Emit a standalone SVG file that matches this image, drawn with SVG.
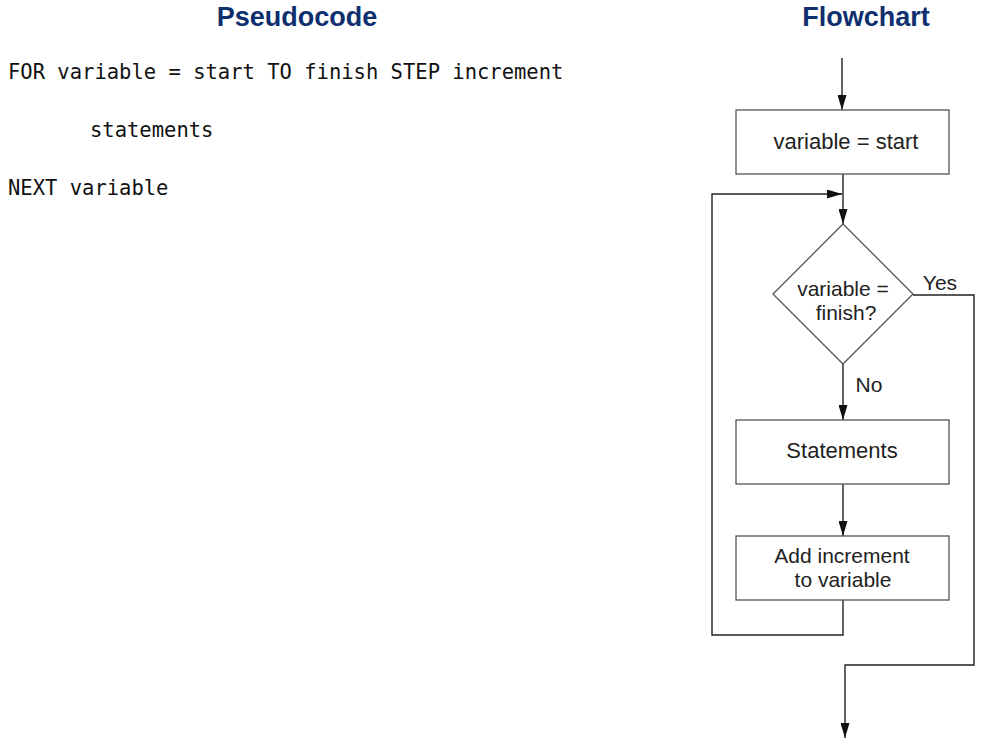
<svg xmlns="http://www.w3.org/2000/svg" width="986" height="745" viewBox="0 0 986 745">
<style>
.title{font-family:"Liberation Sans",Arial,sans-serif;font-weight:bold;font-size:27px;fill:#0f2f6e;text-anchor:middle}
.code{font-family:"DejaVu Sans Mono",monospace;font-size:20.5px;fill:#111}
.box{fill:#fff;stroke:#555;stroke-width:1.3}
.lbl{font-family:"Liberation Sans",Arial,sans-serif;font-size:22px;fill:#222;text-anchor:middle}
.lbl2{font-family:"Liberation Sans",Arial,sans-serif;font-size:21px;fill:#222;text-anchor:middle}
.con{fill:none;stroke:#222;stroke-width:1.4}
</style>
<defs>
<marker id="ah" viewBox="0 0 10 10" refX="10" refY="5" markerWidth="15" markerHeight="9" markerUnits="userSpaceOnUse" orient="auto" preserveAspectRatio="none">
<path d="M0,0 L10,5 L0,10 Z" fill="#111"/>
</marker>
</defs>
<rect width="986" height="745" fill="#fff"/>
<text class="title" x="297" y="26">Pseudocode</text>
<text class="title" x="866" y="26">Flowchart</text>
<g id="pseudocode">
<text class="code" x="8" y="79">FOR variable = start TO finish STEP increment</text>
<text class="code" x="90" y="137">statements</text>
<text class="code" x="8" y="195">NEXT variable</text>
</g>
<g id="connectors">
<line class="con" x1="842" y1="58" x2="842" y2="110" marker-end="url(#ah)"/>
<line class="con" x1="843" y1="174" x2="843" y2="224" marker-end="url(#ah)"/>
<line class="con" x1="843" y1="364" x2="843" y2="420" marker-end="url(#ah)"/>
<line class="con" x1="843" y1="484" x2="843" y2="536" marker-end="url(#ah)"/>
<polyline class="con" points="843,600 843,635 712,635 712,194 842,194" marker-end="url(#ah)"/>
<polyline class="con" points="913,295 974,295 974,665 845,665 845,738" marker-end="url(#ah)"/>
<text class="lbl2" x="940" y="290">Yes</text>
<text class="lbl2" x="869" y="392">No</text>
</g>
<g id="init">
<rect class="box" x="736" y="110" width="213" height="64"/>
<text class="lbl" x="846" y="149">variable = start</text>
</g>
<g id="decision">
<polygon class="box" points="843,224 913,294 843,364 773,294"/>
<text class="lbl2" x="843" y="296">variable =</text>
<text class="lbl2" x="846" y="320">finish?</text>
</g>
<g id="statements">
<rect class="box" x="736" y="420" width="213" height="64"/>
<text class="lbl" x="842" y="458">Statements</text>
</g>
<g id="increment">
<rect class="box" x="736" y="536" width="213" height="64"/>
<text class="lbl2" x="842" y="563">Add increment</text>
<text class="lbl2" x="843" y="587">to variable</text>
</g>
</svg>
